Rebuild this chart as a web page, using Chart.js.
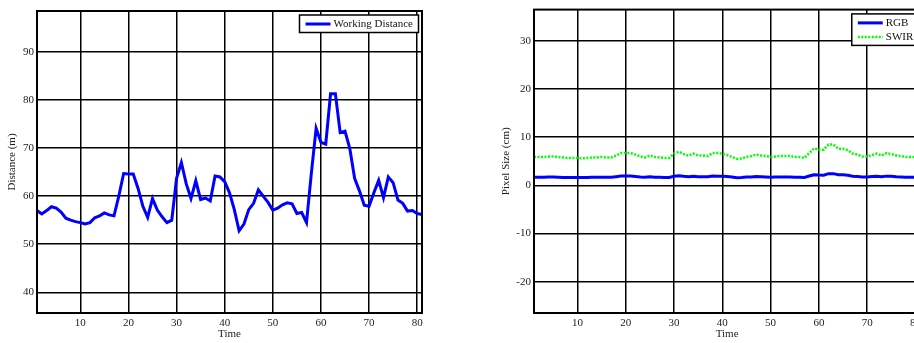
<!DOCTYPE html>
<html>
<head>
<meta charset="utf-8">
<script src="https://cdn.jsdelivr.net/npm/chart.js@4.4.1/dist/chart.umd.min.js"></script>
<style>
html, body { margin:0; padding:0; overflow:hidden; background:#fff; width:914px; height:343px; }
.box { position:absolute; top:0; height:343px; }
#leftBox { left:0; width:430px; }
#rightBox { left:470px; width:455px; }
</style>
</head>
<body>
<div class="box" id="leftBox"><canvas id="distChart"></canvas></div>
<div class="box" id="rightBox"><canvas id="pixelChart"></canvas></div>
<script>
// time steps 1..81
const time = [1,2,3,4,5,6,7,8,9,10,11,12,13,14,15,16,17,18,19,20,
  21,22,23,24,25,26,27,28,29,30,31,32,33,34,35,36,37,38,39,40,
  41,42,43,44,45,46,47,48,49,50,51,52,53,54,55,56,57,58,59,60,
  61,62,63,64,65,66,67,68,69,70,71,72,73,74,75,76,77,78,79,80,81];

const workingDistance = [57.0,56.3,57.0,57.8,57.5,56.7,55.4,55.0,54.7,54.5,
  54.2,54.5,55.5,55.9,56.5,56.1,55.9,60.0,64.7,64.6,
  64.6,61.6,57.9,55.6,59.5,57.1,55.7,54.5,55.0,63.7,
  67.0,62.6,59.5,63.2,59.3,59.6,59.0,64.2,64.0,63.0,
  60.7,57.2,52.8,54.2,57.2,58.5,61.3,60.0,58.7,57.1,
  57.5,58.2,58.6,58.4,56.4,56.6,54.5,64.7,74.1,71.2,
  70.8,81.3,81.3,73.2,73.5,69.9,63.7,61.1,58.1,57.9,
  60.7,63.3,59.7,64.0,62.8,59.2,58.5,56.9,57.0,56.4,56.2];

const rgbPixel = [1.71,1.69,1.71,1.73,1.73,1.70,1.66,1.65,1.64,1.64,
  1.63,1.64,1.67,1.68,1.70,1.68,1.68,1.80,1.94,1.94,
  1.94,1.85,1.74,1.67,1.79,1.71,1.67,1.64,1.65,1.91,
  2.01,1.88,1.79,1.90,1.78,1.79,1.77,1.93,1.92,1.89,
  1.82,1.72,1.58,1.63,1.72,1.76,1.84,1.80,1.76,1.71,
  1.73,1.75,1.76,1.75,1.69,1.70,1.64,1.94,2.22,2.14,
  2.12,2.44,2.44,2.20,2.21,2.10,1.91,1.83,1.74,1.74,
  1.82,1.90,1.79,1.92,1.88,1.78,1.76,1.71,1.71,1.69,1.69];

const swirPixel = [5.9,5.9,5.9,6.0,6.0,5.9,5.8,5.7,5.7,5.7,
  5.6,5.7,5.8,5.8,5.9,5.8,5.8,6.2,6.7,6.7,
  6.7,6.4,6.0,5.8,6.2,5.9,5.8,5.7,5.7,6.6,
  7.0,6.5,6.2,6.6,6.2,6.2,6.1,6.7,6.7,6.6,
  6.3,5.9,5.5,5.6,5.9,6.1,6.4,6.2,6.1,5.9,
  6.0,6.1,6.1,6.1,5.9,5.9,5.7,6.7,7.7,7.4,
  7.4,8.5,8.5,7.6,7.6,7.3,6.6,6.4,6.0,6.0,
  6.3,6.6,6.2,6.7,6.5,6.2,6.1,5.9,5.9,5.9,5.8];

const timeTicks = [10,20,30,40,50,60,70,80];
const distTicks = [40,50,60,70,80,90];
const pixelTicks = [-20,-10,0,10,20,30];

Chart.defaults.font.family = "'Liberation Serif', 'Times New Roman', serif";
Chart.defaults.font.size = 11;
Chart.defaults.color = '#222';

const framePlugin = {
  id: 'frame',
  afterDatasetsDraw(chart) {
    const {ctx, chartArea: a} = chart;
    ctx.save();
    ctx.strokeStyle = '#000';
    ctx.lineWidth = 2;
    ctx.strokeRect(a.left, a.top, a.right - a.left, a.bottom - a.top);
    ctx.restore();
  }
};

// legend box drawn inside the plot, top right, like matlab
const boxLegend = {
  id: 'boxLegend',
  afterDraw(chart, args, opts) {
    const {ctx, chartArea: a} = chart;
    const x = a.right - opts.offsetRight - opts.width;
    const y = a.top + opts.offsetTop;
    ctx.save();
    ctx.fillStyle = '#fff';
    ctx.fillRect(x, y, opts.width, opts.height);
    ctx.strokeStyle = '#000';
    ctx.lineWidth = 1.5;
    ctx.strokeRect(x, y, opts.width, opts.height);
    ctx.font = "11px 'Liberation Serif', serif";
    ctx.textBaseline = 'middle';
    chart.data.datasets.forEach((ds, i) => {
      const ly = y + opts.firstRow + i * opts.rowHeight;
      ctx.strokeStyle = ds.borderColor;
      ctx.lineWidth = ds.borderWidth;
      ctx.setLineDash(ds.borderDash || []);
      ctx.beginPath();
      ctx.moveTo(x + 6, ly);
      ctx.lineTo(x + 31, ly);
      ctx.stroke();
      ctx.setLineDash([]);
      ctx.fillStyle = '#111';
      ctx.fillText(ds.label, x + 34, ly);
    });
    ctx.restore();
  }
};

function xAxis(){
  return {
    type: 'linear', min: 1, max: 81,
    afterBuildTicks: (axis) => { axis.ticks = timeTicks.map(v => ({value: v})); },
    afterFit: (axis) => { axis.height = 30; },
    grid: { color: '#000', lineWidth: 1.5, drawTicks: false },
    border: { display: false },
    ticks: { padding: 4, maxRotation: 0, autoSkip: false },
    title: { display: true, text: 'Time', padding: { top: 0, bottom: 2 } }
  };
}

function yAxis(min, max, ticks, text, width, titlePad){
  return {
    type: 'linear', min: min, max: max,
    afterBuildTicks: (axis) => { axis.ticks = ticks.map(v => ({value: v})); },
    afterFit: (axis) => { axis.width = width; },
    grid: { color: '#000', lineWidth: 1.5, drawTicks: false },
    border: { display: false },
    ticks: { padding: 3 },
    title: { display: true, text: text, padding: { top: titlePad, bottom: 0 } }
  };
}

new Chart(document.getElementById('distChart'), {
  type: 'line',
  data: {
    labels: time,
    datasets: [{
      label: 'Working Distance',
      data: workingDistance,
      borderColor: '#0000ff',
      borderWidth: 3,
      pointRadius: 0,
      tension: 0
    }]
  },
  options: {
    responsive: true,
    maintainAspectRatio: false,
    animation: false,
    layout: { padding: { top: 11, right: 8, left: 0, bottom: 0 } },
    plugins: {
      legend: { display: false },
      tooltip: { enabled: false },
      boxLegend: { width: 119, height: 17.5, offsetRight: 3.5, offsetTop: 4, firstRow: 9, rowHeight: 14 }
    },
    scales: {
      x: xAxis(),
      y: yAxis(35.7, 98.5, distTicks, 'Distance (m)', 37, 6)
    }
  },
  plugins: [framePlugin, boxLegend]
});

new Chart(document.getElementById('pixelChart'), {
  type: 'line',
  data: {
    labels: time,
    datasets: [{
      label: 'RGB',
      data: rgbPixel,
      borderColor: '#0000ff',
      borderWidth: 3,
      pointRadius: 0,
      tension: 0
    }, {
      label: 'SWIR',
      data: swirPixel,
      borderColor: '#00ff00',
      borderWidth: 2.5,
      borderDash: [2, 1.5],
      pointRadius: 0,
      tension: 0
    }]
  },
  options: {
    responsive: true,
    maintainAspectRatio: false,
    animation: false,
    layout: { padding: { top: 8, right: 4, left: 0, bottom: 0 } },
    plugins: {
      legend: { display: false },
      tooltip: { enabled: false },
      boxLegend: { width: 80, height: 31.5, offsetRight: -11.5, offsetTop: 4.3, firstRow: 9, rowHeight: 14 }
    },
    scales: {
      x: xAxis(),
      y: yAxis(-26.5, 36.5, pixelTicks, 'Pixel Size (cm)', 64, 30)
    }
  },
  plugins: [framePlugin, boxLegend]
});
</script>
</body>
</html>
